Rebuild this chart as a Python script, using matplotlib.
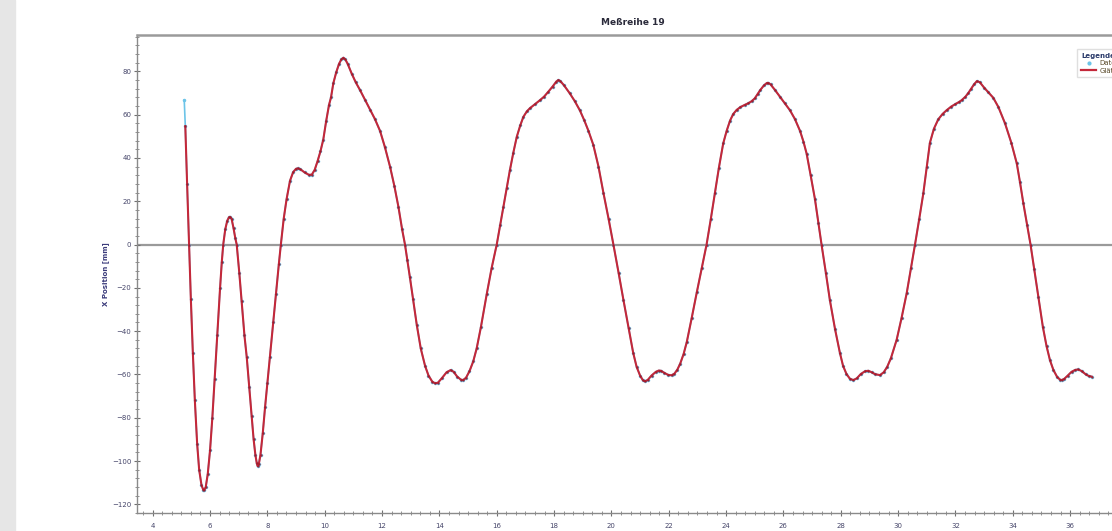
import numpy as np
import matplotlib
matplotlib.use("Agg")
import matplotlib.pyplot as plt
from matplotlib.lines import Line2D
from matplotlib.patches import Rectangle
from matplotlib.ticker import AutoMinorLocator

# Zeit [s] und X Position [mm] der Glättung
zeit = [5.137, 5.20, 5.27, 5.33, 5.40, 5.47, 5.55, 5.62, 5.70, 5.76, 5.80,
        5.85, 5.92, 6.00, 6.08, 6.16, 6.25, 6.35, 6.41, 6.46, 6.53, 6.60,
        6.66, 6.70, 6.75, 6.82, 6.88, 6.93, 7.02, 7.10, 7.20, 7.28, 7.37,
        7.45, 7.52, 7.58, 7.63, 7.66, 7.70, 7.76, 7.84, 7.92, 8.00, 8.09,
        8.20, 8.30, 8.40, 8.47, 8.57, 8.67, 8.79, 8.90, 9.00, 9.06, 9.15,
        9.30, 9.45, 9.55, 9.65, 9.75, 9.85, 9.95, 10.05, 10.15, 10.22, 10.30,
        10.40, 10.50, 10.58, 10.65, 10.72, 10.80, 10.94, 11.08, 11.23, 11.40,
        11.58, 11.75, 11.93, 12.10, 12.28, 12.43, 12.57, 12.70, 12.80, 12.88,
        12.97, 13.08, 13.21, 13.35, 13.50, 13.62, 13.75, 13.85, 13.95, 14.10,
        14.25, 14.39, 14.50, 14.62, 14.75, 14.83, 14.93, 15.05, 15.18, 15.30,
        15.45, 15.65, 15.82, 16.00, 16.12, 16.23, 16.35, 16.46, 16.58, 16.70,
        16.82, 16.93, 17.05, 17.16, 17.33, 17.51, 17.65, 17.80, 17.95, 18.08,
        18.15, 18.22, 18.35, 18.55, 18.72, 18.90, 19.05, 19.20, 19.37, 19.55,
        19.72, 19.90, 20.07, 20.25, 20.42, 20.60, 20.76, 20.88, 21.00, 21.10,
        21.17, 21.27, 21.40, 21.55, 21.65, 21.73, 21.85, 21.98, 22.10, 22.20,
        22.30, 22.40, 22.52, 22.63, 22.80, 22.98, 23.15, 23.32, 23.47, 23.61,
        23.75, 23.90, 24.02, 24.14, 24.25, 24.37, 24.50, 24.65, 24.78, 24.89,
        25.00, 25.10, 25.20, 25.32, 25.42, 25.47, 25.55, 25.70, 25.88, 26.05,
        26.23, 26.40, 26.58, 26.70, 26.81, 26.95, 27.10, 27.22, 27.33, 27.48,
        27.62, 27.80, 27.97, 28.08, 28.20, 28.32, 28.44, 28.56, 28.70, 28.85,
        28.96, 29.08, 29.20, 29.37, 29.50, 29.62, 29.75, 29.95, 30.12, 30.30,
        30.45, 30.59, 30.74, 30.88, 31.00, 31.11, 31.25, 31.40, 31.55, 31.69,
        31.85, 32.00, 32.12, 32.22, 32.35, 32.45, 32.55, 32.65, 32.75, 32.85,
        33.00, 33.15, 33.32, 33.50, 33.73, 33.95, 34.14, 34.25, 34.37, 34.50,
        34.62, 34.75, 34.89, 35.05, 35.18, 35.30, 35.42, 35.55, 35.65, 35.71,
        35.80, 35.92, 36.05, 36.18, 36.28, 36.40, 36.55, 36.65, 36.75]
position = [54.7, 28, 0, -25, -50, -72, -92, -104, -111, -113.2, -113.4,
            -112, -106, -95, -80, -62, -42, -20, -8, 0, 7, 11,
            12.6, 12.8, 12, 7.5, 3, 0, -13, -26, -42, -52, -66,
            -79, -90, -97, -101, -102.3, -101.5, -97, -87, -75, -64, -52,
            -36, -23, -9, 0, 12, 21, 29.5, 33.5, 35, 35.2, 34.8,
            33.3, 32.2, 32.3, 34.5, 38.5, 43, 48.5, 57, 64.5, 68, 74.5,
            79.5, 83.5, 85.5, 86.3, 85.5, 83.5, 79, 75, 71.4, 67,
            62.3, 58, 52.5, 45, 35.9, 27, 17.5, 7, 0, -7,
            -15, -25, -37, -48, -56, -60.5, -63.3, -64.1, -63.8, -61.5,
            -59, -58, -58.8, -61, -62.4, -62.6, -61.5, -58.5, -54, -48,
            -38, -23, -11, 0, 9, 17.5, 26, 34.4, 42.5, 49.8,
            55, 59, 61.5, 63, 64.8, 66.7, 68.3, 70.6, 73, 75.3,
            76, 75.5, 73.5, 69.8, 66.3, 62, 57.5, 52.5, 46, 36,
            24, 12, 0, -13, -25.6, -38.5, -50, -56.5, -60.5, -62.7,
            -63.2, -62.5, -60.5, -58.8, -58.2, -58.3, -59.3, -60.2, -60.4, -59.6,
            -57.8, -55, -50.5, -45, -34, -22, -11, 0, 12, 23.6,
            35.5, 46.7, 52.5, 57.3, 60.3, 62.2, 63.5, 64.5, 65.3, 66.2,
            67.5, 69.5, 71.5, 73.5, 74.6, 74.7, 74, 71.5, 68.3, 65.3,
            62, 58, 52.5, 47.5, 42, 32, 21, 10, 0, -13,
            -25.6, -39, -50, -56, -59.8, -62, -62.6, -61.8, -59.8, -58.5,
            -58.3, -59, -59.9, -60.3, -59, -56.5, -52.5, -44, -34, -22.5,
            -11, 0, 12, 23.6, 36, 47, 53.5, 57.8, 60.3, 62,
            63.7, 64.9, 65.8, 66.7, 68.3, 70, 72, 74, 75.5, 75,
            72.5, 70.3, 67.8, 63.5, 56, 47, 37.5, 29, 19, 9,
            0, -11.5, -24, -38, -47, -53.5, -58, -61.2, -62.4, -62.6,
            -62, -60.5, -58.8, -57.9, -57.7, -58.4, -60, -60.7, -61]

# Rohdaten: nur der erste Messpunkt weicht sichtbar von der Glättung ab
daten_zeit = [5.10] + zeit
daten_pos = [66.7] + position

y_ticks = [80, 60, 40, 20, 0, -20, -40, -60, -80, -100, -120]
x_ticks = list(range(4, 38, 2))

W, H = 1112, 531
fig = plt.figure(figsize=(W / 100, H / 100), dpi=100)
fig.patches.append(Rectangle((0, 0), 15 / W, 1, transform=fig.transFigure,
                             color='#e6e6e6', zorder=0))

ax = fig.add_axes([137 / W, 1 - 513 / H, (1128 - 137) / W, (513 - 35) / H])

cyan = '#6cc4e8'
rot = '#c4283a'
tick_col = '#46466a'

ax.axhline(0, color='#9a9a9a', linewidth=1.6, zorder=1)
ax.plot(daten_zeit, daten_pos, color=cyan, linewidth=1.2, marker='.',
        markersize=3, zorder=2)
ax.plot(zeit, position, color=rot, linewidth=1.5, marker='.',
        markersize=1.1, markerfacecolor='#961c2c', markeredgecolor='#961c2c',
        zorder=3)

ax.set_xlim(3.452, 38.02)
ax.set_ylim(-124.0, 96.8)
ax.set_xticks(x_ticks)
ax.set_yticks(y_ticks)
ax.xaxis.set_minor_locator(AutoMinorLocator(6))
ax.yaxis.set_minor_locator(AutoMinorLocator(5))
ax.tick_params(axis='both', which='major', labelsize=5, labelcolor=tick_col,
               color='#707070', length=4, width=0.8, direction='inout')
ax.tick_params(axis='both', which='minor', color='#808080', length=2.5,
               width=0.6, direction='inout')
ax.tick_params(axis='x', pad=5)
ax.tick_params(axis='y', pad=2)

for side in ['left', 'bottom']:
    ax.spines[side].set_color('#8a8a8a')
    ax.spines[side].set_linewidth(1.0)
ax.spines['top'].set_color('#9a9a9a')
ax.spines['top'].set_linewidth(1.8)
ax.spines['right'].set_visible(False)

ax.set_title('Meßreihe 19', fontsize=6.5, fontweight='bold', color='#2a2a3a',
             pad=7)
ax.set_ylabel('X Position [mm]', fontsize=5, fontweight='bold',
              color='#3a3a7a', labelpad=2)

handles = [Line2D([], [], linestyle='none', marker='.', markersize=4,
                  color=cyan),
           Line2D([], [], color=rot, linewidth=1.6)]
leg = ax.legend(handles, ['Daten', 'Glättung'], title='Legende',
                loc='upper left', bbox_to_anchor=(1074 / W, 1 - 46 / H),
                bbox_transform=fig.transFigure, fontsize=5,
                title_fontsize=5, alignment='left', handlelength=2.2,
                handletextpad=0.5, borderpad=0.5, labelspacing=0.2,
                frameon=True, fancybox=False, edgecolor='#d8d8d8')
leg.get_title().set_fontweight('bold')
leg.get_title().set_color('#2a3a6a')
for txt in leg.get_texts():
    txt.set_color('#5a4a2a')

fig.savefig('out.png', dpi=100, facecolor='white')
